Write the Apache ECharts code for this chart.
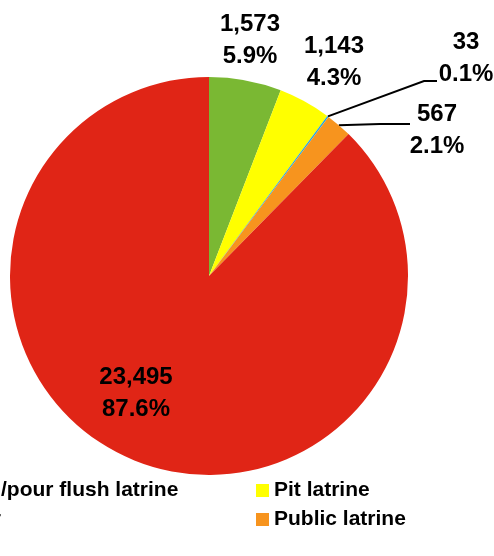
<!DOCTYPE html>
<html>
<head>
<meta charset="utf-8">
<script src="https://cdn.jsdelivr.net/npm/echarts@6/dist/echarts.min.js"></script>
<style>
  html, body { margin: 0; padding: 0; background: #fff; }
  #chart { width: 494px; height: 556px; }
</style>
</head>
<body>
<div id="chart"></div>
<script>
// 数据
var categories = ['Other', 'Pit latrine', 'Open defecation', 'Public latrine', 'Flush/pour flush latrine']
var counts = [1573, 1143, 33, 567, 23495]
var colors = ['#7ab833', '#ffff00', '#27a6df', '#f7941e', '#e02516']

var total = counts.reduce(function (a, b) { return a + b }, 0)

// 标签位置 (x, y 为两行文字的中心)
var labelSpots = [
  { x: 250, y: 40 },
  { x: 334, y: 62 },
  { x: 466, y: 58, line: [[424, 81], [437, 81]] },
  { x: 437, y: 130, line: [[380, 124], [410, 124]] },
  { x: 136, y: 393 }
]

var pieData = categories.map(function (name, i) {
  var item = {
    name: name,
    value: counts[i],
    itemStyle: { color: colors[i] },
    labelLine: { show: false }
  }
  if (labelSpots[i].line) {
    item.labelLine = { show: true, lineStyle: { color: '#000', width: 2 } }
  }
  return item
})

var fontFamily = '"Liberation Sans", Arial, sans-serif'
var legendText = { fontFamily: fontFamily, fontSize: 21, fontWeight: 'bold', color: '#000', lineHeight: 20 }

var chart = echarts.init(document.getElementById('chart'), null, { renderer: 'canvas' })
chart.setOption({
  animation: false,
  legend: [
    {
      orient: 'vertical',
      left: -73,
      top: 480,
      padding: 0,
      itemWidth: 13,
      itemHeight: 13,
      itemGap: 8,
      selectedMode: false,
      icon: 'rect',
      data: ['Flush/pour flush latrine', 'Other'],
      textStyle: legendText
    },
    {
      orient: 'vertical',
      left: 256,
      top: 480,
      padding: 0,
      itemWidth: 13,
      itemHeight: 13,
      itemGap: 8,
      selectedMode: false,
      icon: 'rect',
      data: ['Pit latrine', 'Public latrine'],
      textStyle: legendText
    }
  ],
  series: [
    {
      type: 'pie',
      center: [209, 276],
      radius: 199,
      startAngle: 90,
      clockwise: true,
      avoidLabelOverlap: false,
      itemStyle: { borderWidth: 0 },
      label: {
        show: true,
        position: 'outside',
        fontFamily: fontFamily,
        fontSize: 24,
        fontWeight: 'bold',
        color: '#000',
        lineHeight: 32,
        align: 'center',
        formatter: function (p) {
          var pct = (p.value / total * 100).toFixed(1)
          return p.value.toLocaleString('en-US') + '\n' + pct + '%'
        }
      },
      labelLine: { show: false },
      labelLayout: function (params) {
        var spot = labelSpots[params.dataIndex]
        var res = { x: spot.x, y: spot.y, align: 'center', verticalAlign: 'middle' }
        if (spot.line && params.labelLinePoints) {
          res.labelLinePoints = [params.labelLinePoints[0]].concat(spot.line)
        }
        return res
      },
      emphasis: { disabled: true },
      data: pieData
    }
  ]
})
</script>
</body>
</html>
